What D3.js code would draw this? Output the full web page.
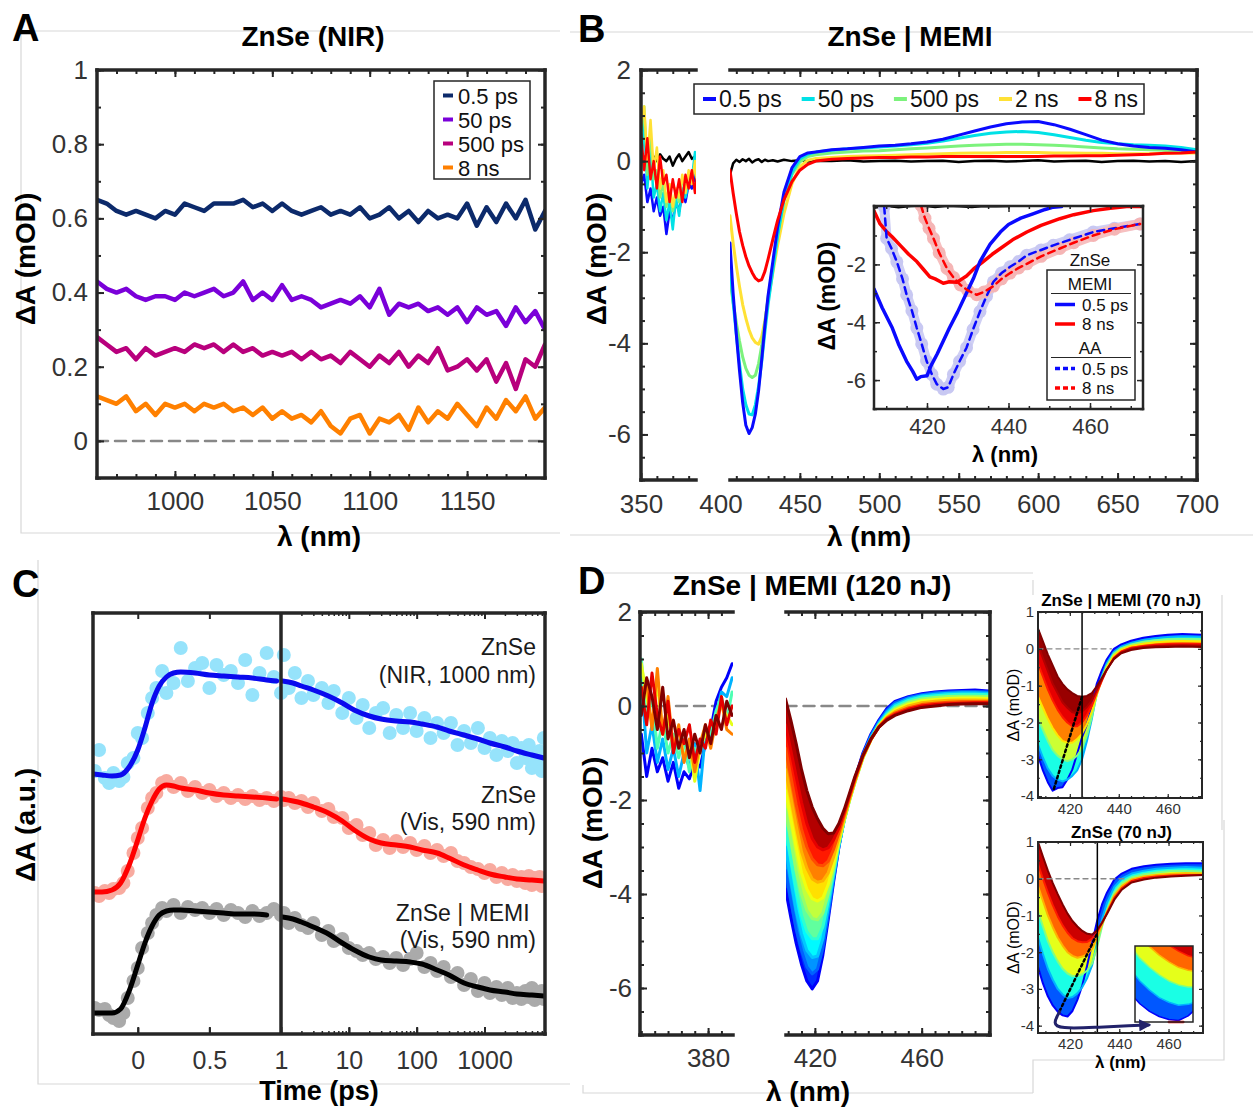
<!DOCTYPE html>
<html><head><meta charset="utf-8">
<script src="https://cdn.jsdelivr.net/npm/d3@7"></script>
<style>body{margin:0;background:#fff}svg{display:block}</style>
</head><body><svg id="fig" width="1253" height="1108"></svg>
<script>
// ================= DATA =================
// ---- Panel A : ZnSe (NIR) ----
const aWavelength = [960,965,970,975,980,985,990,995,1000,1005,1010,1015,1020,1025,1030,1035,1040,1045,1050,1055,1060,1065,1070,1075,1080,1085,1090,1095,1100,1105,1110,1115,1120,1125,1130,1135,1140,1145,1150,1155,1160,1165,1170,1175,1180,1185,1190];
const aPs05 = [0.65,0.64,0.62,0.61,0.62,0.61,0.6,0.62,0.61,0.64,0.63,0.62,0.64,0.64,0.64,0.65,0.63,0.64,0.62,0.64,0.62,0.61,0.62,0.63,0.61,0.62,0.61,0.63,0.6,0.61,0.63,0.6,0.62,0.59,0.62,0.6,0.61,0.6,0.64,0.58,0.63,0.59,0.64,0.6,0.65,0.57,0.62];
const aPs50 = [0.43,0.41,0.4,0.41,0.39,0.38,0.39,0.39,0.38,0.4,0.39,0.4,0.41,0.39,0.4,0.43,0.38,0.4,0.38,0.42,0.38,0.39,0.38,0.36,0.37,0.38,0.37,0.39,0.36,0.41,0.34,0.37,0.36,0.37,0.35,0.36,0.34,0.36,0.32,0.36,0.34,0.35,0.31,0.36,0.32,0.35,0.3];
const aPs500 = [0.28,0.26,0.24,0.25,0.22,0.25,0.23,0.24,0.25,0.24,0.26,0.25,0.26,0.24,0.26,0.24,0.25,0.23,0.24,0.23,0.24,0.22,0.24,0.22,0.23,0.21,0.24,0.22,0.2,0.23,0.21,0.24,0.2,0.23,0.21,0.25,0.19,0.2,0.22,0.19,0.22,0.16,0.21,0.14,0.22,0.2,0.26];
const aNs8 = [0.12,0.11,0.1,0.12,0.08,0.1,0.07,0.1,0.09,0.1,0.08,0.1,0.09,0.1,0.08,0.09,0.07,0.09,0.06,0.08,0.06,0.07,0.05,0.08,0.04,0.02,0.06,0.07,0.02,0.06,0.05,0.07,0.03,0.09,0.05,0.08,0.06,0.1,0.07,0.04,0.09,0.06,0.11,0.08,0.12,0.06,0.09];
const aLabels = ["0.5 ps","50 ps","500 ps","8 ns"];
const aTicksX = [1000,1050,1100,1150];
const aTicksY = [0,0.2,0.4,0.6,0.8,1];

// ---- Panel B : ZnSe | MEMI ----
const bLabels = ["0.5 ps","50 ps","500 ps","2 ns","8 ns"];
const bWlRight = [406,408,410,412,414,416,418,420,422,424,426,428,430,433,436,440,445,450,455,460,470,480,490,500,510,520,530,540,550,560,570,580,590,600,610,620,630,640,650,660,670,680,690,700];
const bPs05 = [-1.8,-2.9,-3.8,-4.6,-5.3,-5.8,-5.98,-5.85,-5.55,-5.05,-4.35,-3.6,-2.95,-2.2,-1.45,-0.68,-0.15,0.1,0.18,0.2,0.25,0.27,0.3,0.33,0.35,0.38,0.42,0.48,0.57,0.66,0.75,0.82,0.86,0.87,0.8,0.7,0.58,0.46,0.38,0.33,0.3,0.28,0.25,0.2];
const bPs50 = [-2.3,-3.1,-3.8,-4.45,-5.0,-5.35,-5.55,-5.57,-5.35,-4.95,-4.4,-3.75,-3.15,-2.4,-1.65,-0.85,-0.25,0.05,0.15,0.2,0.24,0.27,0.29,0.31,0.33,0.36,0.39,0.44,0.5,0.56,0.61,0.64,0.65,0.63,0.58,0.52,0.46,0.41,0.38,0.36,0.35,0.33,0.3,0.25];
const bPs500 = [-2.6,-3.1,-3.55,-3.95,-4.3,-4.55,-4.7,-4.75,-4.7,-4.45,-4.05,-3.55,-3.0,-2.3,-1.6,-0.85,-0.3,-0.02,0.1,0.14,0.18,0.2,0.22,0.23,0.25,0.27,0.29,0.31,0.33,0.35,0.36,0.37,0.37,0.36,0.35,0.33,0.31,0.29,0.27,0.26,0.25,0.24,0.23,0.22];
const bNs2 = [-1.2,-1.8,-2.3,-2.75,-3.15,-3.45,-3.7,-3.88,-3.98,-4.02,-3.85,-3.5,-3.05,-2.45,-1.85,-1.15,-0.5,-0.12,0.02,0.06,0.08,0.1,0.11,0.12,0.13,0.14,0.15,0.16,0.17,0.18,0.18,0.19,0.19,0.19,0.18,0.18,0.17,0.17,0.16,0.16,0.16,0.17,0.18,0.18];
const bNs8 = [-0.2,-0.7,-1.15,-1.55,-1.85,-2.1,-2.3,-2.45,-2.57,-2.63,-2.6,-2.42,-2.15,-1.72,-1.3,-0.85,-0.45,-0.2,-0.07,0.0,0.04,0.06,0.07,0.08,0.08,0.09,0.09,0.1,0.1,0.1,0.1,0.1,0.1,0.1,0.11,0.11,0.12,0.12,0.13,0.14,0.15,0.17,0.18,0.2];
const bGround = [-0.3,-0.05,0.03,-0.02,0.04,0.0,0.05,-0.03,0.02,0.04,-0.02,0.03,0.0,0.02,-0.01,0.03,0.0,0.02,-0.01,0.01,0.0,0.02,-0.01,0.0,0.01,-0.01,0.0,0.01,-0.02,0.0,0.01,-0.01,0.0,0.02,-0.01,0.0,0.01,-0.02,0.0,0.01,-0.01,0.0,-0.02,0.0];
const bWlLeft = [350,352,354,356,358,360,362,364,366,368,370,372,374,376,378,380,382,384,385];
const bLeftPs05 = [-0.5,-0.3,-0.9,-0.6,-1.1,-0.8,-1.2,-1.0,-1.6,-1.1,-1.3,-0.9,-1.1,-0.7,-0.9,-0.5,-0.6,-0.3,-0.5];
const bLeftPs50 = [-0.2,0.8,-0.6,0.2,-0.8,-0.5,-1.1,-0.7,-1.3,-0.9,-1.5,-0.8,-1.2,-0.6,-0.8,-0.5,-0.4,0.2,-0.2];
const bLeftPs500 = [0.5,1.2,-0.3,0.6,-0.4,-0.2,-0.8,-0.5,-1.0,-0.6,-1.1,-0.7,-0.9,-0.4,-0.6,-0.3,-0.5,-0.1,-0.3];
const bLeftNs2 = [0.8,1.2,0.0,0.9,-0.2,0.3,-0.6,-0.2,-0.9,-0.5,-1.0,-0.6,-0.8,-0.3,-0.7,-0.2,-0.5,0.0,-0.4];
const bLeftNs8 = [0.6,-0.2,0.5,-0.4,0.0,-0.6,0.1,-0.5,-0.3,-0.9,-0.4,-0.8,-0.4,-0.9,-0.3,-0.6,-0.2,-0.7,-0.4];
const bLeftGround = [0.0,0.1,-0.05,0.05,0.1,0.0,0.15,0.05,0.0,0.1,-0.1,0.05,0.15,0.0,0.1,0.2,0.05,0.1,0.15];
// inset of B
const biMemiPs05Wl = [407,409,411.5,413,415,416.5,417.5,418.5,420,421,422.5,424,425.5,427.5,429.5,431.5,433,435.5,438,440,443,446,449,451,453];
const biMemiPs05 = [-2.85,-3.5,-4.2,-4.75,-5.35,-5.7,-5.97,-5.88,-5.85,-5.5,-5.1,-4.65,-4.2,-3.65,-3.05,-2.45,-1.9,-1.3,-0.88,-0.62,-0.4,-0.25,-0.1,-0.02,0.0];
const biMemiNs8Wl = [407,408.5,410,411.5,413.5,415.5,417.5,419,420.7,422,424,425.5,427.3,429.7,431.5,433.8,436,438,441,444.5,448,452.6,456,460.8,465,469,473];
const biMemiNs8 = [-0.15,-0.6,-0.85,-1.05,-1.35,-1.65,-1.9,-2.15,-2.43,-2.5,-2.65,-2.6,-2.62,-2.4,-2.15,-1.9,-1.65,-1.45,-1.15,-0.88,-0.65,-0.42,-0.28,-0.14,-0.06,0.0,0.0];
const biAaPs05Wl = [409.5,410.1,411.3,412.6,414,415,416.3,417.5,418.7,419.9,421.2,422.4,424,425.2,426.5,428,429.7,431.3,433,434.6,436.3,438.3,440.4,442.5,444.5,448,451,455,460.8,466,472.3];
const biAaPs05 = [0.0,-1.1,-1.45,-1.91,-2.5,-3.05,-3.6,-4.2,-4.75,-5.34,-5.8,-6.14,-6.31,-6.25,-5.8,-5.35,-4.88,-4.25,-3.63,-3.1,-2.6,-2.3,-2.08,-1.9,-1.68,-1.5,-1.34,-1.15,-0.88,-0.75,-0.6];
const biAaNs8Wl = [418.5,419.5,420.5,421.6,423,424.9,426.5,428.2,430,432.2,434,436.3,438.3,440.4,442.5,444.5,448,452.6,456,460.8,466,472.3];
const biAaNs8 = [0.05,-0.4,-0.75,-1.1,-1.6,-2.14,-2.45,-2.71,-2.9,-3.05,-2.95,-2.75,-2.5,-2.3,-2.12,-1.98,-1.72,-1.45,-1.25,-1.0,-0.78,-0.6];
const biGroundWl = [407,410,413,416,419,422,425,428,431,434,437,440];
const biGround = [-0.05,0.02,-0.03,0.01,0.03,-0.02,0.02,0.0,-0.02,0.01,0.0,0.01];

// ---- Panel C : kinetics ----
const cTime = [-0.3,-0.27,-0.23,-0.2,-0.17,-0.13,-0.1,-0.07,-0.03,0,0.03,0.07,0.1,0.13,0.17,0.2,0.25,0.3,0.35,0.4,0.45,0.5,0.55,0.6,0.65,0.7,0.75,0.8,0.85,0.9,0.95,1.0,
  1.1,1.3,1.6,2,2.5,3,4,5,6,8,10,13,16,20,25,32,40,50,63,80,100,130,160,200,250,320,400,500,630,800,1000,1200,1500,1800,2200,2600,3000,3500,4000,4500,5000,5500,6000,6500,7000,7500];
const cNirData = [2.72,2.93,2.65,2.6,2.7,2.62,2.66,2.8,2.85,3.1,3.05,3.3,3.45,3.55,3.72,3.5,3.6,3.95,3.62,3.75,3.8,3.55,3.78,3.68,3.72,3.6,3.83,3.48,3.7,3.9,3.66,3.5,
  3.88,3.55,3.7,3.45,3.62,3.48,3.55,3.4,3.52,3.3,3.45,3.25,3.38,3.15,3.3,3.35,3.1,3.28,3.15,3.3,3.12,3.25,3.05,3.2,3.1,3.2,2.98,3.12,3.0,3.15,2.95,3.05,2.88,3.02,2.92,3.0,2.8,2.95,2.85,2.98,2.75,2.9,2.8,2.92,2.72,3.05];
const cVisData = [1.5,1.47,1.52,1.5,1.54,1.55,1.6,1.72,1.9,2.05,2.15,2.35,2.45,2.5,2.6,2.62,2.56,2.6,2.52,2.56,2.5,2.53,2.47,2.5,2.45,2.48,2.44,2.47,2.43,2.45,2.42,2.46,
  2.43,2.45,2.4,2.42,2.36,2.4,2.32,2.34,2.26,2.25,2.15,2.18,2.08,2.1,1.98,2.03,1.95,2.02,1.96,2.0,1.93,1.97,1.9,1.93,1.87,1.9,1.82,1.8,1.76,1.74,1.7,1.73,1.66,1.7,1.64,1.68,1.62,1.66,1.6,1.67,1.58,1.65,1.6,1.66,1.57,1.64];
const cMemiData = [0.35,0.33,0.34,0.28,0.25,0.22,0.3,0.45,0.62,0.75,0.95,1.1,1.2,1.28,1.35,1.32,1.38,1.3,1.36,1.33,1.35,1.3,1.34,1.28,1.33,1.3,1.26,1.32,1.27,1.3,1.34,1.28,
  1.3,1.2,1.25,1.18,1.15,1.2,1.08,1.12,1.02,1.04,0.95,0.92,0.88,0.9,0.84,0.86,0.8,0.85,0.78,0.84,0.9,0.76,0.8,0.72,0.76,0.66,0.7,0.58,0.64,0.52,0.6,0.5,0.56,0.48,0.55,0.45,0.5,0.44,0.52,0.46,0.55,0.43,0.5,0.46,0.52,0.44];
const cFitTimeLin = [-0.31,-0.25,-0.18,-0.12,-0.06,0,0.05,0.1,0.15,0.2,0.25,0.3,0.4,0.5,0.6,0.7,0.8,0.9,0.97];
const cNirFitLin = [2.69,2.68,2.67,2.68,2.76,2.93,3.15,3.4,3.57,3.66,3.7,3.71,3.7,3.68,3.67,3.66,3.65,3.63,3.62];
const cVisFitLin = [1.51,1.51,1.53,1.6,1.78,2.03,2.25,2.42,2.54,2.58,2.57,2.55,2.53,2.5,2.48,2.47,2.46,2.45,2.44];
const cMemiFitLin = [0.3,0.3,0.3,0.34,0.52,0.78,1.0,1.17,1.28,1.32,1.33,1.33,1.32,1.31,1.3,1.29,1.29,1.28,null];
const cFitTimeLog = [1.05,1.5,2,3,5,8,12,20,30,50,80,120,200,300,500,800,1200,2000,3000,5000,7500];
const cNirFitLog = [3.62,3.6,3.57,3.53,3.47,3.4,3.33,3.27,3.24,3.22,3.21,3.19,3.16,3.12,3.08,3.04,3.0,2.96,2.92,2.88,2.85];
const cVisFitLog = [2.44,2.42,2.4,2.36,2.3,2.22,2.13,2.04,2.0,1.98,1.96,1.93,1.9,1.85,1.78,1.73,1.69,1.66,1.64,1.63,1.62];
const cMemiFitLog = [1.26,1.24,1.21,1.16,1.09,1.0,0.93,0.86,0.83,0.82,0.81,0.79,0.73,0.68,0.6,0.56,0.53,0.51,0.49,0.48,0.47];
const cTickLin = [0,0.5,1];
const cTickLog = [10,100,1000];

// ---- Panel D : ZnSe | MEMI (120 nJ) ----
const dWlLeft = [355,357,359,361,363,365,367,369,371,373,375,377,379,381,383,385,387,389];
const dLeftSpectra = [
  [-0.6,-1.5,-0.9,-1.4,-1.1,-1.6,-1.2,-1.75,-1.4,-1.55,-1.2,-1.3,-0.8,-0.5,0.1,0.4,0.6,0.9],
  [0.6,-1.0,-0.4,-1.2,-0.7,-1.35,-0.9,-1.5,-1.0,-1.3,-0.8,-1.8,-0.6,-0.7,-0.2,0.3,0.2,0.6],
  [1.0,-0.3,0.2,-0.9,-0.3,-1.0,-0.6,-1.1,-0.7,-1.4,-0.9,-1.0,-0.5,-0.6,-0.1,0.2,-0.3,0.3],
  [0.9,0.2,-0.4,0.5,-0.6,-0.2,-0.9,-0.5,-1.1,-0.8,-1.6,-0.9,-0.6,-0.8,-0.3,0.0,-0.2,-0.4],
  [0.3,0.5,-0.5,0.8,-0.6,0.2,-0.9,-0.4,-1.2,-0.7,-1.4,-0.8,-0.4,-0.9,-0.3,0.1,-0.5,-0.6],
  [0.4,-0.4,0.7,-0.2,-0.6,0.1,-1.0,-0.5,-0.8,-0.4,-1.2,-0.7,-0.9,-0.3,-0.6,0.2,-0.4,0.0],
  [-0.2,0.6,0.2,-0.5,0.4,-0.7,-0.3,-0.9,-0.5,-1.1,-0.6,-1.0,-0.4,-0.8,-0.2,-0.5,0.1,-0.2]];
const dLeftDelay = [0.12,0.3,0.45,0.6,0.75,0.9,1.0];   // position in delay-time colour map
const dWlRight = [409,411,413,415,417,419,421,423,425,427,429,431,433,435,438,441,444,447,450,455,460,465,470,475,480,485];
const dRightSpectra = [
  [-3.9,-4.5,-5.05,-5.5,-5.85,-6.02,-5.85,-5.3,-4.55,-3.75,-3.0,-2.4,-1.95,-1.55,-1.0,-0.6,-0.3,-0.05,0.1,0.2,0.26,0.3,0.32,0.33,0.34,0.32],
  [-3.5,-4.15,-4.75,-5.2,-5.55,-5.7,-5.6,-5.15,-4.45,-3.7,-3.0,-2.42,-1.97,-1.57,-1.03,-0.63,-0.33,-0.09,0.07,0.18,0.24,0.28,0.3,0.31,0.31,0.3],
  [-3.0,-3.7,-4.35,-4.85,-5.2,-5.35,-5.32,-4.95,-4.3,-3.62,-2.98,-2.43,-1.98,-1.6,-1.06,-0.66,-0.36,-0.13,0.03,0.15,0.22,0.25,0.27,0.28,0.28,0.27],
  [-2.6,-3.25,-3.9,-4.45,-4.8,-4.95,-4.95,-4.7,-4.15,-3.55,-2.95,-2.44,-2.0,-1.62,-1.09,-0.7,-0.39,-0.17,-0.01,0.12,0.19,0.22,0.24,0.25,0.25,0.24],
  [-2.2,-2.85,-3.5,-4.0,-4.35,-4.52,-4.55,-4.4,-4.0,-3.48,-2.92,-2.44,-2.01,-1.63,-1.11,-0.72,-0.41,-0.2,-0.05,0.08,0.15,0.18,0.2,0.21,0.21,0.2],
  [-1.8,-2.4,-3.0,-3.55,-3.9,-4.1,-4.15,-4.08,-3.8,-3.38,-2.88,-2.42,-2.0,-1.62,-1.1,-0.72,-0.42,-0.22,-0.09,0.04,0.11,0.14,0.16,0.17,0.17,0.16],
  [-1.35,-1.95,-2.55,-3.1,-3.45,-3.68,-3.75,-3.72,-3.55,-3.22,-2.8,-2.38,-1.97,-1.6,-1.09,-0.72,-0.43,-0.24,-0.12,0.0,0.07,0.1,0.12,0.13,0.13,0.12],
  [-0.9,-1.5,-2.1,-2.62,-3.0,-3.25,-3.38,-3.4,-3.3,-3.05,-2.7,-2.32,-1.94,-1.57,-1.07,-0.71,-0.44,-0.26,-0.15,-0.04,0.03,0.06,0.08,0.09,0.09,0.09],
  [-0.4,-0.95,-1.5,-2.05,-2.5,-2.82,-3.0,-3.06,-3.02,-2.85,-2.6,-2.25,-1.9,-1.53,-1.06,-0.71,-0.45,-0.28,-0.18,-0.07,0.0,0.03,0.05,0.06,0.07,0.07],
  [0.15,-0.3,-0.8,-1.35,-1.8,-2.15,-2.4,-2.6,-2.72,-2.7,-2.5,-2.2,-1.85,-1.5,-1.05,-0.7,-0.45,-0.3,-0.2,-0.1,-0.03,0.0,0.03,0.04,0.05,0.05]];
const dRightDelay = [0.12,0.22,0.32,0.42,0.52,0.61,0.7,0.8,0.9,1.0];
// small panels, 70 nJ
const dMemi70Wl = [407,409,411,413,415,417,419,421,423,425,427,429,431,433,435,438,441,445,450,455,460,466,474];
const dMemi70Spectra = [
  [-2.9,-3.3,-3.62,-3.85,-3.78,-3.76,-3.55,-3.28,-2.85,-2.4,-2.05,-1.6,-0.95,-0.6,-0.3,0.0,0.12,0.22,0.3,0.35,0.38,0.4,0.38],
  [-2.6,-2.95,-3.25,-3.45,-3.55,-3.6,-3.55,-3.45,-3.3,-3.0,-2.5,-1.9,-1.2,-0.75,-0.4,-0.08,0.06,0.16,0.24,0.29,0.32,0.34,0.33],
  [-1.9,-2.2,-2.5,-2.75,-2.9,-3.0,-3.05,-3.0,-2.9,-2.7,-2.35,-1.85,-1.25,-0.8,-0.47,-0.13,0.02,0.12,0.19,0.23,0.26,0.27,0.26],
  [-1.3,-1.6,-1.9,-2.15,-2.35,-2.5,-2.55,-2.55,-2.45,-2.3,-2.05,-1.7,-1.25,-0.85,-0.52,-0.18,-0.02,0.08,0.14,0.18,0.2,0.21,0.2],
  [-0.4,-0.75,-1.1,-1.4,-1.65,-1.85,-2.0,-2.1,-2.1,-2.0,-1.8,-1.55,-1.2,-0.88,-0.58,-0.24,-0.07,0.03,0.08,0.11,0.13,0.14,0.13],
  [0.1,-0.25,-0.6,-0.95,-1.2,-1.45,-1.6,-1.72,-1.75,-1.7,-1.58,-1.4,-1.12,-0.85,-0.58,-0.26,-0.1,0.0,0.05,0.08,0.09,0.1,0.09],
  [0.55,0.2,-0.15,-0.45,-0.75,-0.95,-1.1,-1.2,-1.28,-1.3,-1.28,-1.2,-1.02,-0.8,-0.57,-0.28,-0.12,-0.03,0.02,0.04,0.05,0.06,0.05]];
const dMemi70Delay = [0.12,0.3,0.5,0.65,0.85,0.95,1.0];
const dMemi70Shift = {wl:[413.5,425], val:[-3.8,-1.3]};
const dZnSe70Wl = [407,409,411,413,415,417,419,421,423,425,427,429,431,433,435,438,441,445,450,455,461,467,474];
const dZnSe70Spectra = [
  [-2.4,-2.85,-3.2,-3.45,-3.62,-3.72,-3.75,-3.6,-3.3,-2.9,-2.35,-1.75,-1.15,-0.7,-0.38,-0.02,0.14,0.27,0.34,0.38,0.41,0.42,0.42],
  [-1.6,-2.05,-2.45,-2.75,-3.0,-3.15,-3.25,-3.22,-3.12,-2.95,-2.7,-2.35,-1.75,-1.1,-0.65,-0.22,0.0,0.14,0.22,0.27,0.3,0.32,0.3],
  [-0.9,-1.3,-1.7,-2.0,-2.25,-2.45,-2.58,-2.65,-2.65,-2.6,-2.5,-2.3,-1.85,-1.3,-0.85,-0.37,-0.12,0.04,0.12,0.17,0.21,0.22,0.2],
  [-0.2,-0.6,-1.0,-1.32,-1.6,-1.82,-2.0,-2.1,-2.15,-2.12,-2.05,-1.9,-1.6,-1.25,-0.9,-0.45,-0.2,-0.02,0.06,0.1,0.13,0.15,0.14],
  [0.4,0.0,-0.38,-0.72,-1.02,-1.27,-1.47,-1.62,-1.7,-1.73,-1.72,-1.63,-1.45,-1.2,-0.93,-0.52,-0.26,-0.06,0.02,0.06,0.09,0.1,0.1],
  [1.0,0.6,0.22,-0.12,-0.42,-0.7,-0.95,-1.15,-1.3,-1.42,-1.5,-1.52,-1.4,-1.2,-0.96,-0.57,-0.3,-0.1,-0.02,0.03,0.06,0.08,0.1]];
const dZnSe70Delay = [0.12,0.3,0.5,0.7,0.85,1.0];
const dZnSe70Shift = {wl:[415.8,431.1], val:[-3.6,-1.48]};
const dArrow = {wl:[415.8,413,416,430,445,452], val:[-3.62,-3.95,-4.08,-4.05,-4.0,-3.98]};

// ================= DRAWING =================
const FONT = "'Liberation Sans', Arial, Helvetica, sans-serif";
const INK = "#262626", TXT = "#333";
const svg = d3.select("#fig");
const defs = svg.append("defs");
const jet = d3.scaleLinear().domain([0,0.125,0.375,0.625,0.875,1])
  .range(["#00008f","#0000ff","#00ffff","#ffff00","#ff0000","#800000"]);

function clip(id, x, y, w, h){ defs.append("clipPath").attr("id",id).append("rect").attr("x",x).attr("y",y).attr("width",w).attr("height",h); return `url(#${id})`; }
function txt(g,x,y,s,o={}){
  const t=g.append("text").attr("x",x).attr("y",y).text(s).attr("font-family",FONT)
    .attr("font-size",o.fs||25).attr("font-weight",o.bold?"bold":"normal")
    .attr("text-anchor",o.anchor||"middle").attr("fill",o.fill||"#000");
  if(o.rot) t.attr("transform",`rotate(-90,${x},${y})`).attr("dominant-baseline","central");
  return t;
}
function finish(a,o){
  a.attr("font-family",null).attr("font-size",null);
  a.select(".domain").remove();
  a.selectAll(".tick line").attr("stroke",INK).attr("stroke-width",o.tw||2);
  a.selectAll(".tick text").attr("font-family",FONT).attr("font-size",o.fs||25).attr("fill",TXT);
  if(o.keep) a.selectAll(".tick").filter(d=>!o.keep(d)).select("line").remove();
}
function ax(g,gen,tr,vals,o){
  const A=gen.tickValues(vals).tickSize(-(o.len||7)).tickPadding(o.pad||12)
    .tickFormat(o.labels?(d=>String(d)):"");
  const a=g.append("g").attr("transform",tr).call(A); finish(a,o); return a;
}
function boxAxes(g,x,y,b,o){
  const minLen=o.minLen||4, majLen=o.majLen||7;
  ax(g,d3.axisBottom(x),`translate(0,${b.b})`,o.xMinor,{...o,len:minLen,labels:false});
  ax(g,d3.axisTop(x),`translate(0,${b.t})`,o.xMinor,{...o,len:minLen,labels:false});
  ax(g,d3.axisBottom(x),`translate(0,${b.b})`,o.xMajor,{...o,len:majLen,labels:true,pad:o.padX});
  ax(g,d3.axisTop(x),`translate(0,${b.t})`,o.xMajor,{...o,len:majLen,labels:false});
  const ok={...o,keep:null};
  ax(g,d3.axisLeft(y),`translate(${b.l},0)`,o.yMinor,{...ok,len:minLen,labels:false});
  ax(g,d3.axisRight(y),`translate(${b.r},0)`,o.yMinor,{...ok,len:minLen,labels:false});
  ax(g,d3.axisLeft(y),`translate(${b.l},0)`,o.yMajor,{...ok,len:majLen,labels:true,pad:o.padY});
  ax(g,d3.axisRight(y),`translate(${b.r},0)`,o.yMajor,{...ok,len:majLen,labels:false});
}
function frame(g,b,segs,sw){
  const f=g.append("g").attr("stroke",INK).attr("stroke-width",sw||3.5).attr("stroke-linecap","square").attr("fill","none");
  (segs||[[b.l,b.r]]).forEach(([p,q])=>{
    f.append("line").attr("x1",p).attr("x2",q).attr("y1",b.t).attr("y2",b.t);
    f.append("line").attr("x1",p).attr("x2",q).attr("y1",b.b).attr("y2",b.b);
  });
  f.append("line").attr("x1",b.l).attr("x2",b.l).attr("y1",b.t).attr("y2",b.b);
  f.append("line").attr("x1",b.r).attr("x2",b.r).attr("y1",b.t).attr("y2",b.b);
}
function lineXY(g,xs,ys,x,y,o){
  const L=d3.line().defined((d,i)=>ys[i]!=null).x((d,i)=>x(xs[i])).y((d,i)=>y(ys[i]));
  if(o.curve) L.curve(o.curve);
  return g.append("path").datum(xs).attr("d",L).attr("fill","none").attr("stroke",o.color)
    .attr("stroke-width",o.sw||3).attr("stroke-linejoin","round").attr("stroke-linecap","round")
    .attr("stroke-dasharray",o.dash||null).attr("opacity",o.op||1);
}
function rainbow(g,xs,curves,fr,x,y,sw,fill){
  if(fill) for(let k=0;k<curves.length-1;k++){
    const A=d3.area().x((d,i)=>x(xs[i])).y0((d,i)=>y(curves[k][i])).y1((d,i)=>y(curves[k+1][i]));
    g.append("path").datum(xs).attr("d",A).attr("fill",jet((fr[k]+fr[k+1])/2));
  }
  curves.forEach((c,k)=>lineXY(g,xs,c,x,y,{color:jet(fr[k]),sw}));
}
const gray = svg.append("g").attr("stroke","#d8d8d8").attr("stroke-width",1.2).attr("fill","none");
[["M21,31H560","M21,31V533H560"],["M570,32H1253","M570,535H1253"],["M38,560V1084H570"],
 ["M603,573H1033","M583,1085V1093H1033","M1033,580V595","M1222,595V830","M1224,820V1060H1033V1093"]]
 .flat().forEach(d=>gray.append("path").attr("d",d));

// ---------- Panel A ----------
{
  const g=svg.append("g");
  const b={l:97,r:545,t:70,b:478};
  const x=d3.scaleLinear().domain([960,1190]).range([b.l,b.r]);
  const y=d3.scaleLinear().domain([-0.1,1.0]).range([b.b,b.t]);
  const cols=["#0c2a6b","#7a00d9","#b8007d","#ff8000"];
  const pc=g.append("g").attr("clip-path",clip("cA",b.l,b.t,b.r-b.l,b.b-b.t));
  lineXY(pc,[960,1190],[0,0],x,y,{color:"#888",sw:2.5,dash:"11,7"});
  [aPs05,aPs50,aPs500,aNs8].forEach((s,i)=>lineXY(pc,aWavelength,s,x,y,{color:cols[i],sw:4.5}));
  boxAxes(g,x,y,b,{xMajor:aTicksX,xMinor:d3.range(970,1190,10),yMajor:aTicksY,yMinor:d3.range(-0.1,1.0001,0.1).map(v=>+v.toFixed(2)),padX:14,padY:9,fs:26});
  frame(g,b);
  const lg=g.append("g");
  lg.append("rect").attr("x",434).attr("y",81).attr("width",96).attr("height",98).attr("fill","#fff").attr("stroke",INK).attr("stroke-width",1.5);
  aLabels.forEach((s,i)=>{
    const yy=95.5+i*24;
    lg.append("line").attr("x1",443).attr("x2",453).attr("y1",yy).attr("y2",yy).attr("stroke",cols[i]).attr("stroke-width",4);
    txt(lg,458,yy+8,s,{fs:22,anchor:"start",fill:"#111"});
  });
  txt(g,313,46,"ZnSe (NIR)",{fs:28,bold:true});
  txt(g,12,41,"A",{fs:38,bold:true,anchor:"start"});
  txt(g,25,259,"ΔA (mOD)",{fs:28,bold:true,rot:true});
  txt(g,319,546,"λ (nm)",{fs:28,bold:true});
}

// ---------- Panel B ----------
{
  const g=svg.append("g");
  const b={l:641,r:1197,t:70,b:480};
  const segs=[[641,696],[730,1197]];
  const x=d3.scaleLinear().domain([350,700]).range([b.l,b.r]);
  const y=d3.scaleLinear().domain([-7,2]).range([b.b,b.t]);
  const cols=["#0a0aff","#00e1e6","#7cf27c","#ffe135","#ff0000"];
  const inSeg=v=>segs.some(([p,q])=>x(v)>=p-1&&x(v)<=q+1);
  const pl=g.append("g").attr("clip-path",clip("cBl",641,b.t,55,b.b-b.t));
  const pr=g.append("g").attr("clip-path",clip("cBr",730,b.t,467,b.b-b.t));
  lineXY(pl,bWlLeft,bLeftGround,x,y,{color:"#000",sw:2.5});
  lineXY(pr,bWlRight,bGround,x,y,{color:"#000",sw:2.5});
  [bLeftPs05,bLeftPs50,bLeftPs500,bLeftNs2,bLeftNs8].forEach((s,i)=>lineXY(pl,bWlLeft,s,x,y,{color:cols[i],sw:2.5}));
  [bNs2,bPs500,bPs50,bPs05,bNs8].forEach((s,i)=>lineXY(pr,bWlRight,s,x,y,{color:cols[[3,2,1,0,4][i]],sw:3}));
  boxAxes(g,x,y,b,{xMajor:d3.range(350,701,50),xMinor:d3.range(360,700,10),yMajor:[2,0,-2,-4,-6],yMinor:d3.range(-7,2.01,0.5),padX:15,padY:10,fs:26,keep:inSeg});
  frame(g,b,segs);
  // legend
  const lg=g.append("g");
  lg.append("rect").attr("x",694).attr("y",84).attr("width",450).attr("height",30).attr("fill","#fff").attr("stroke",INK).attr("stroke-width",1.5);
  let cx=703;
  bLabels.forEach((s,i)=>{
    lg.append("line").attr("x1",cx).attr("x2",cx+13).attr("y1",99).attr("y2",99).attr("stroke",cols[i]).attr("stroke-width",4);
    const t=txt(lg,cx+16,107,s,{fs:23,anchor:"start",fill:"#111"});
    cx+=16+t.node().getComputedTextLength()+20;
  });
  // inset
  const ib={l:874,r:1143,t:206,b:409};
  const ix=d3.scaleLinear().domain([407,473]).range([ib.l,ib.r]);
  const iy=d3.scaleLinear().domain([-7,0.02]).range([ib.b,ib.t]);
  g.append("rect").attr("x",ib.l).attr("y",ib.t).attr("width",ib.r-ib.l).attr("height",ib.b-ib.t).attr("fill","#fff");
  const pi=g.append("g").attr("clip-path",clip("cBi",ib.l,ib.t,ib.r-ib.l,ib.b-ib.t));
  lineXY(pi,biGroundWl,biGround,ix,iy,{color:"#000",sw:2});
  lineXY(pi,biAaPs05Wl,biAaPs05,ix,iy,{color:"#cfcff4",sw:10});
  pi.append("g").selectAll("circle").data(biAaPs05Wl).join("circle").attr("cx",d=>ix(d)).attr("cy",(d,i)=>iy(biAaPs05[i])).attr("r",6.5).attr("fill","#c8c8f2");
  lineXY(pi,biAaNs8Wl,biAaNs8,ix,iy,{color:"#f7c0c0",sw:10});
  pi.append("g").selectAll("circle").data(biAaNs8Wl).join("circle").attr("cx",d=>ix(d)).attr("cy",(d,i)=>iy(biAaNs8[i])).attr("r",6.5).attr("fill","#f5b5b5");
  lineXY(pi,biMemiNs8Wl,biMemiNs8,ix,iy,{color:"#ff0000",sw:3.5});
  lineXY(pi,biMemiPs05Wl,biMemiPs05,ix,iy,{color:"#0a0aff",sw:3.5});
  lineXY(pi,biAaPs05Wl,biAaPs05,ix,iy,{color:"#0a0aff",sw:2.5,dash:"7,5"});
  lineXY(pi,biAaNs8Wl,biAaNs8,ix,iy,{color:"#ff0000",sw:2.5,dash:"7,5"});
  boxAxes(g,ix,iy,ib,{xMajor:[420,440,460],xMinor:d3.range(410,473,5),yMajor:[-2,-4,-6],yMinor:d3.range(-7,0.01,1),padX:9,padY:8,fs:22,majLen:6,minLen:3,tw:1.5});
  frame(g,ib,null,2.5);
  txt(g,827,296,"ΔA (mOD)",{fs:23,bold:true,rot:true});
  txt(g,1005,462,"λ (nm)",{fs:22,bold:true});
  const il=g.append("g");
  txt(il,1090,266,"ZnSe",{fs:17,fill:"#111"});
  il.append("rect").attr("x",1047).attr("y",270).attr("width",88).attr("height",130).attr("fill","#fff").attr("stroke",INK).attr("stroke-width",1.5);
  txt(il,1090,290,"MEMI",{fs:17,fill:"#111"});
  il.append("line").attr("x1",1051).attr("x2",1131).attr("y1",293.5).attr("y2",293.5).attr("stroke",INK).attr("stroke-width",1.2);
  txt(il,1090,354,"AA",{fs:17,fill:"#111"});
  il.append("line").attr("x1",1051).attr("x2",1131).attr("y1",357.5).attr("y2",357.5).attr("stroke",INK).attr("stroke-width",1.2);
  [["0.5 ps","#0a0aff",304.5,null],["8 ns","#ff0000",324,null],["0.5 ps","#0a0aff",368.5,"5,3"],["8 ns","#ff0000",388,"5,3"]].forEach(([s,c,yy,d])=>{
    il.append("line").attr("x1",1055).attr("x2",1075).attr("y1",yy).attr("y2",yy).attr("stroke",c).attr("stroke-width",3.5).attr("stroke-dasharray",d);
    txt(il,1082,yy+6,s,{fs:17,anchor:"start",fill:"#111"});
  });
  txt(g,910,46,"ZnSe | MEMI",{fs:28,bold:true});
  txt(g,578,42,"B",{fs:38,bold:true,anchor:"start"});
  txt(g,596,259,"ΔA (mOD)",{fs:28,bold:true,rot:true});
  txt(g,869,546,"λ (nm)",{fs:28,bold:true});
}

// ---------- Panel C ----------
{
  const g=svg.append("g");
  const b={l:93,r:545,t:613,b:1034};
  const xl=d3.scaleLinear().domain([-0.3125,1]).range([b.l,281]);
  const xg=d3.scaleLog().domain([1,7800]).range([281,b.r]);
  const cx=t=>t<=1?xl(t):xg(t);
  const y=d3.scaleLinear().domain([0.09,4.30]).range([b.b,b.t]);
  const pc=g.append("g").attr("clip-path",clip("cC",b.l,b.t,b.r-b.l,b.b-b.t));
  const sets=[[cNirData,"#96e3fb",cNirFitLin,cNirFitLog,"#0a0aee"],[cVisData,"#f8aa9f",cVisFitLin,cVisFitLog,"#ff0000"],[cMemiData,"#aaaaaa",cMemiFitLin,cMemiFitLog,"#000"]];
  sets.forEach(([d,c])=>pc.append("g").selectAll("circle").data(cTime).join("circle")
    .attr("cx",t=>cx(t)).attr("cy",(t,i)=>y(d[i])).attr("r",7).attr("fill",c));
  sets.forEach(([,,fl,fg,c])=>{
    lineXY(pc,cFitTimeLin,fl,cx,y,{color:c,sw:5,curve:d3.curveMonotoneX});
    lineXY(pc,cFitTimeLog,fg,cx,y,{color:c,sw:5,curve:d3.curveMonotoneX});
  });
  ax(g,d3.axisBottom(xl),`translate(0,${b.b})`,[0,0.5],{len:6,labels:false});
  ax(g,d3.axisTop(xl),`translate(0,${b.t})`,[0,0.5],{len:6,labels:false});
  const logMinor=[];[1,10,100,1000].forEach(k=>d3.range(2,10).forEach(m=>{if(k*m<7800)logMinor.push(k*m);}));
  ax(g,d3.axisBottom(xg),`translate(0,${b.b})`,logMinor,{len:3,labels:false,tw:1.5});
  ax(g,d3.axisTop(xg),`translate(0,${b.t})`,logMinor,{len:3,labels:false,tw:1.5});
  ax(g,d3.axisBottom(xg),`translate(0,${b.b})`,cTickLog,{len:6,labels:false});
  ax(g,d3.axisTop(xg),`translate(0,${b.t})`,cTickLog,{len:6,labels:false});
  ax(g,d3.axisBottom(xl),`translate(0,${b.b})`,cTickLin,{len:0,labels:true,pad:17,fs:25});
  ax(g,d3.axisBottom(xg),`translate(0,${b.b})`,cTickLog,{len:0,labels:true,pad:17,fs:25});
  frame(g,b);
  g.append("line").attr("x1",xl(1)).attr("x2",xl(1)).attr("y1",b.t).attr("y2",b.b).attr("stroke",INK).attr("stroke-width",3.5);
  const ann=[["ZnSe",655],["(NIR, 1000 nm)",683],["ZnSe",803],["(Vis, 590 nm)",830],["ZnSe | MEMI ",921],["(Vis, 590 nm)",948]];
  ann.forEach(([s,yy])=>txt(g,536,yy,s,{fs:23,anchor:"end",fill:"#1a1a1a"}).style("white-space","pre"));
  txt(g,12,597,"C",{fs:38,bold:true,anchor:"start"});
  txt(g,25,825,"ΔA (a.u.)",{fs:28,bold:true,rot:true});
  txt(g,319,1100,"Time (ps)",{fs:27,bold:true});
}

// ---------- Panel D ----------
{
  const g=svg.append("g");
  const b={l:640,r:990,t:612,b:1035};
  const segs=[[640,733],[786,990]];
  const x=d3.scaleLinear().domain([354.5,485.6]).range([b.l,b.r]);
  const y=d3.scaleLinear().domain([-7,2]).range([b.b,b.t]);
  const inSeg=v=>segs.some(([p,q])=>x(v)>=p-1&&x(v)<=q+1);
  const pl=g.append("g").attr("clip-path",clip("cDl",640,b.t,93,b.b-b.t));
  const pr=g.append("g").attr("clip-path",clip("cDr",786,b.t,204,b.b-b.t));
  lineXY(pl,[354.5,390],[0,0],x,y,{color:"#888",sw:2.5,dash:"11,7"});
  lineXY(pr,[409,485.6],[0,0],x,y,{color:"#888",sw:2.5,dash:"11,7"});
  rainbow(pl,dWlLeft,dLeftSpectra,dLeftDelay,x,y,3,false);
  rainbow(pr,dWlRight,dRightSpectra,dRightDelay,x,y,3,true);
  boxAxes(g,x,y,b,{xMajor:[380,420,460],xMinor:d3.range(355,486,5),yMajor:[2,0,-2,-4,-6],yMinor:d3.range(-7,2.01,0.5),padX:14,padY:8,fs:26,keep:inSeg});
  frame(g,b,segs);
  txt(g,812,595,"ZnSe | MEMI (120 nJ)",{fs:28,bold:true});
  txt(g,578,594,"D",{fs:38,bold:true,anchor:"start"});
  txt(g,592,823,"ΔA (mOD)",{fs:28,bold:true,rot:true});
  txt(g,808,1101,"λ (nm)",{fs:28,bold:true});

  function small(id,b,yDom,wl,spec,fr,vline,shift,title,titleY,xlabel){
    const x=d3.scaleLinear().domain([407,474]).range([b.l,b.r]);
    const y=d3.scaleLinear().domain(yDom).range([b.b,b.t]);
    const p=g.append("g").attr("clip-path",clip(id,b.l,b.t,b.r-b.l,b.b-b.t));
    rainbow(p,wl,spec,fr,x,y,2,true);
    lineXY(p,[407,vline+12],[0,0],x,y,{color:"#888",sw:1.3,dash:"5,4"});
    lineXY(p,[vline,vline],yDom,x,y,{color:"#000",sw:1.5});
    lineXY(p,shift.wl,shift.val,x,y,{color:"#000",sw:2.5,dash:"2.5,3"});
    boxAxes(g,x,y,b,{xMajor:[420,440,460],xMinor:d3.range(410,474,5),yMajor:[1,0,-1,-2,-3,-4],yMinor:d3.range(-4,1.01,0.5),padX:5,padY:4,fs:15,majLen:4,minLen:2,tw:1.2});
    frame(g,b,null,2);
    txt(g,(b.l+b.r)/2+1,titleY,title,{fs:17,bold:true});
    txt(g,1013,(b.t+b.b)/2,"ΔA (mOD)",{fs:16,rot:true});
    if(xlabel) txt(g,(b.l+b.r)/2,1068,xlabel,{fs:17,bold:true});
    return {x,y};
  }
  small("cD1",{l:1038,r:1202,t:612,b:798},[-4.05,1.0],dMemi70Wl,dMemi70Spectra,dMemi70Delay,425,dMemi70Shift,"ZnSe | MEMI (70 nJ)",606,null);
  const s2=small("cD2",{l:1038,r:1203,t:842,b:1033},[-4.2,1.0],dZnSe70Wl,dZnSe70Spectra,dZnSe70Delay,431.1,dZnSe70Shift,"ZnSe (70 nJ)",838,"λ (nm)");
  // magnified view inside the lower small panel
  const mb={l:1135,r:1193,t:946,b:1022};
  const mx=d3.scaleLinear().domain([410,422]).range([mb.l,mb.r]);
  const my=d3.scaleLinear().domain([-3.8,-1.3]).range([mb.b,mb.t]);
  g.append("rect").attr("x",mb.l).attr("y",mb.t).attr("width",mb.r-mb.l).attr("height",mb.b-mb.t).attr("fill","#fff");
  const pm=g.append("g").attr("clip-path",clip("cDm",mb.l,mb.t,mb.r-mb.l,mb.b-mb.t));
  rainbow(pm,dZnSe70Wl,dZnSe70Spectra,dZnSe70Delay,mx,my,1.5,true);
  lineXY(g,[417,420],[-3.8,-3.8],mx,my,{color:"#e00000",sw:2.5});
  g.append("rect").attr("x",mb.l).attr("y",mb.t).attr("width",mb.r-mb.l).attr("height",mb.b-mb.t).attr("fill","none").attr("stroke",INK).attr("stroke-width",1.5);
  defs.append("marker").attr("id","arr").attr("viewBox","0 0 10 10").attr("refX",8).attr("refY",5).attr("markerWidth",4).attr("markerHeight",4).attr("orient","auto")
    .append("path").attr("d","M0,0L10,5L0,10z").attr("fill","#22226a");
  lineXY(g,dArrow.wl,dArrow.val,s2.x,s2.y,{color:"#22226a",sw:3,curve:d3.curveBasis}).attr("marker-end","url(#arr)");
}
</script></body></html>
